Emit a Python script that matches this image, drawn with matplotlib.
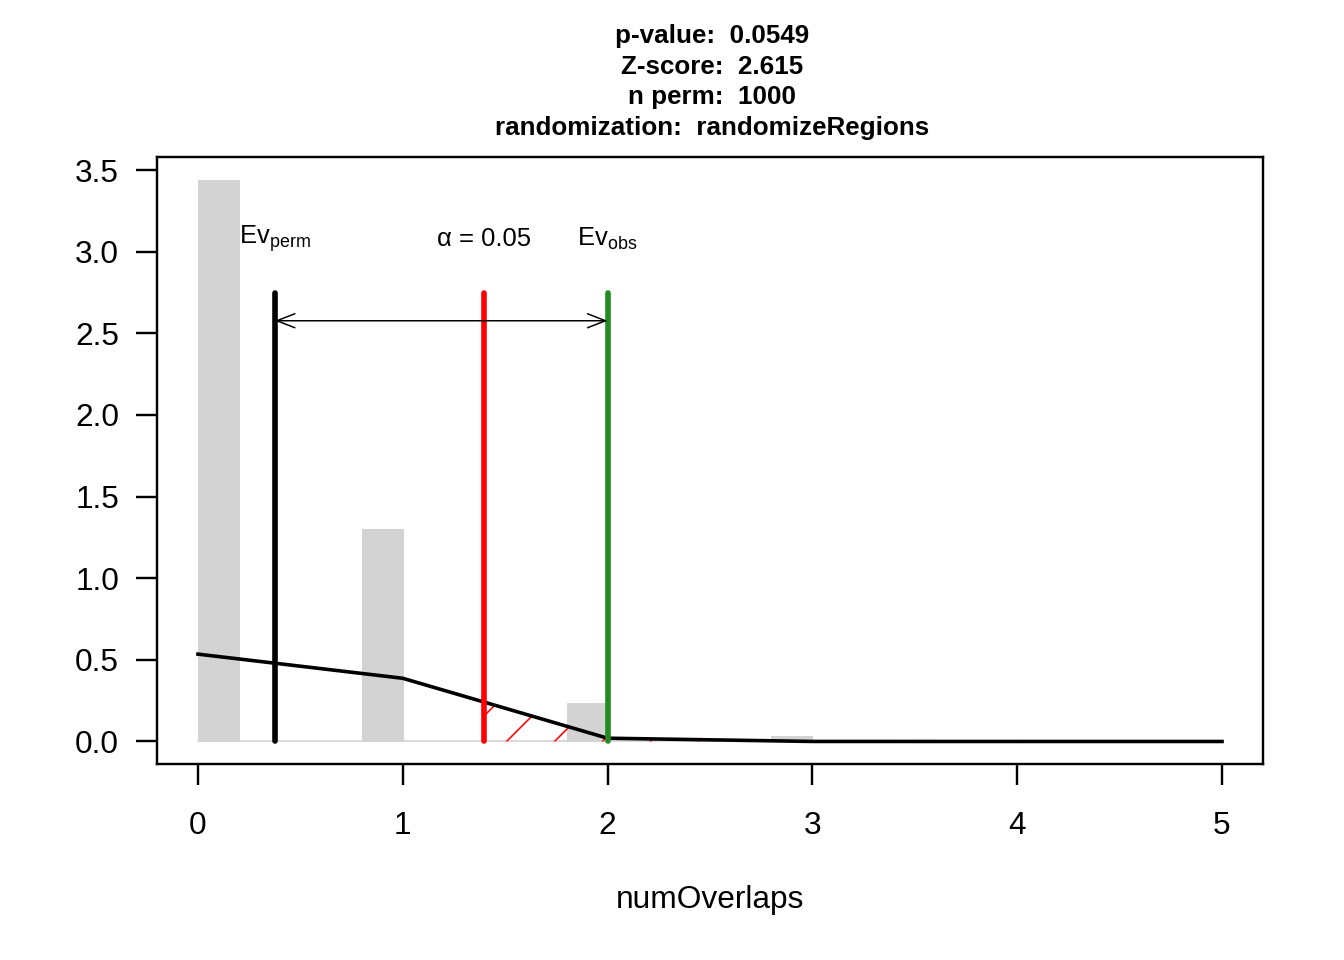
import numpy as np
import matplotlib
matplotlib.use("Agg")
import matplotlib.pyplot as plt

plt.rcParams["font.family"] = ["Liberation Sans", "DejaVu Sans"]
plt.rcParams["mathtext.fontset"] = "custom"
plt.rcParams["mathtext.rm"] = "Liberation Sans"
plt.rcParams["mathtext.it"] = "Liberation Sans:italic"
plt.rcParams["hatch.linewidth"] = 0.8

# histogram of permuted overlaps (density, bin width 0.2)
bar_left = [0.0, 0.8, 1.8, 2.8]
bar_height = [3.44, 1.30, 0.235, 0.035]
bin_width = 0.2
bin_range = [0.0, 3.0]

# fitted density evaluated at integer overlaps
fit_x = [0, 1, 2, 3, 4, 5]
fit_y = [0.535, 0.387, 0.02, 0.0001, 0.0, 0.0]

ev_perm = 0.375
alpha_thr = 1.397
ev_obs = 2.0
line_top = 2.75
arrow_y = 2.577
label_y = 3.08

title_lines = [
    "p-value:  0.0549",
    "Z-score:  2.615",
    "n perm:  1000",
    "randomization:  randomizeRegions",
]

fig = plt.figure(figsize=(1344 / 144, 960 / 144), dpi=144)
ax = fig.add_axes([157 / 1344, 1 - 764 / 960, (1263 - 157) / 1344, (764 - 157) / 960])

# bars
ax.plot(bin_range, [0, 0], color="lightgray", lw=0.8, zorder=1)
ax.bar(bar_left, bar_height, width=bin_width, align="edge",
       color="lightgray", edgecolor="lightgray", linewidth=0.5, zorder=1)

# hatched tail above alpha threshold
tail_x = [alpha_thr] + [x for x in fit_x if x > alpha_thr]
tail_y = list(np.interp(tail_x, fit_x, fit_y))
poly_x = [alpha_thr] + tail_x + [fit_x[-1]]
poly_y = [0.0] + tail_y + [0.0]
ax.fill(poly_x, poly_y, facecolor="none", edgecolor="red", linewidth=0,
        hatch="/", zorder=2)

# density line
ax.plot(fit_x, fit_y, color="black", lw=1.8, zorder=3)

# vertical markers
for xv, col in [(ev_perm, "black"), (alpha_thr, "red"), (ev_obs, "forestgreen")]:
    ax.plot([xv, xv], [0, line_top], color=col, lw=2.8,
            solid_capstyle="round", zorder=4)

ax.annotate("", xy=(ev_obs, arrow_y), xytext=(ev_perm, arrow_y),
            arrowprops=dict(arrowstyle="<->,head_length=0.9,head_width=0.35",
                            lw=0.75, color="black", shrinkA=0, shrinkB=0),
            zorder=5)

ax.text(ev_perm, label_y, r"Ev$_{\mathrm{perm}}$", ha="center", va="center", fontsize=12.8)
ax.text(alpha_thr, label_y, "α = 0.05", ha="center", va="center", fontsize=12.8)
ax.text(ev_obs, label_y, r"Ev$_{\mathrm{obs}}$", ha="center", va="center", fontsize=12.8)

ax.set_xlim(-0.2, 5.2)
ax.set_ylim(-0.138, 3.58)
ax.set_xticks(range(6))
ax.set_yticks(np.arange(0, 3.51, 0.5))
ax.set_yticklabels([f"{v:.1f}" for v in np.arange(0, 3.51, 0.5)])
ax.tick_params(axis="both", direction="out", length=10.5, width=1.2, labelsize=15.8)
ax.tick_params(axis="x", pad=13)
ax.tick_params(axis="y", pad=8.5)
for sp in ax.spines.values():
    sp.set_linewidth(1.2)

fig.text(710 / 1344, 1 - 900 / 960, "numOverlaps", ha="center", va="center", fontsize=15.8)
for i, line in enumerate(title_lines):
    fig.text(712 / 1344, 1 - (36 + 30.7 * i) / 960, line, ha="center", va="center",
             fontsize=13, fontweight="bold")

fig.savefig("out.png", dpi=144)
